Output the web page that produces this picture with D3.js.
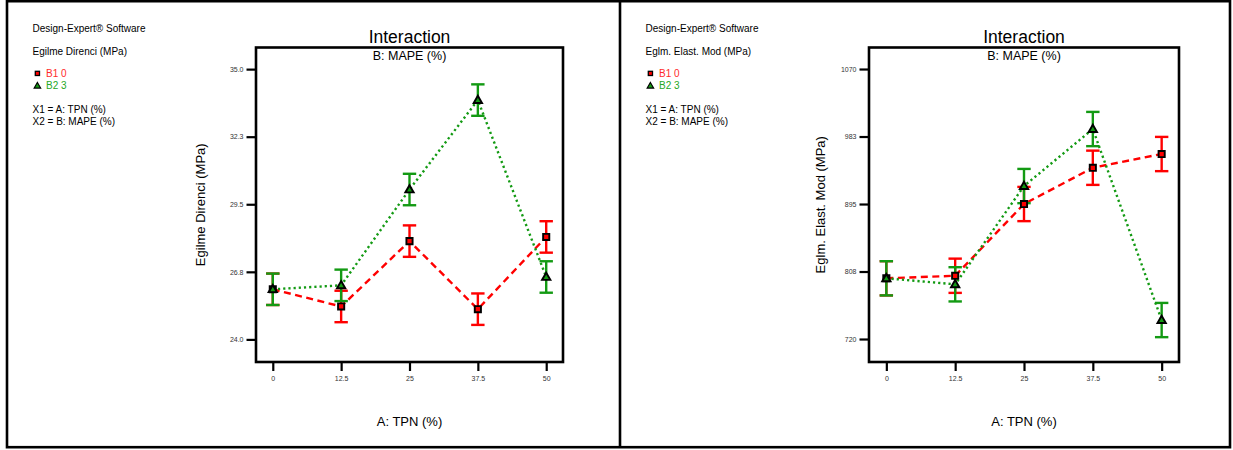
<!DOCTYPE html>
<html>
<head>
<meta charset="utf-8">
<script src="https://cdn.jsdelivr.net/npm/d3@7"></script>
<style>
  body { margin: 0; background: #fff; }
  svg { display: block; font-family: "Liberation Sans", Arial, sans-serif; }
</style>
</head>
<body>
<svg id="chart" width="1233" height="450"></svg>
<script>
// factor A levels (TPN %)
const tpnLevels = [0, 12.5, 25, 37.5, 50];
const tpnTicks = ["0", "12.5", "25", "37.5", "50"];

// Egilme Direnci (MPa)
const egilmeB1 = [26.04, 25.34, 28.0, 25.23, 28.17];
const egilmeB2 = [26.04, 26.2, 30.1, 33.74, 26.54];
const egilmeLsd = 0.64;
const egilmeTicks = [24, 26.75, 29.5, 32.25, 35];

// Eglm. Elast. Mod (MPa)
const elastB1 = [798.7, 802, 895, 942, 959.8];
const elastB2 = [798.7, 790.9, 918.3, 992.2, 744.6];
const elastLsd = 22.2;
const elastTicks = [720, 807.5, 895, 982.5, 1070];

const seriesNames = ["B1 0", "B2 3"];

const RED = "#ff0000";
const GREEN = "#139a13";

const svg = d3.select("#chart");
svg.append("rect").attr("width", 1233).attr("height", 450).attr("fill", "#fff");

// outer frame + divider
svg.append("rect")
  .attr("x", 7).attr("y", 1.2).attr("width", 1223).attr("height", 446)
  .attr("fill", "none").attr("stroke", "#000").attr("stroke-width", 2.6);
svg.append("line")
  .attr("x1", 620).attr("x2", 620).attr("y1", 0).attr("y2", 448)
  .attr("stroke", "#000").attr("stroke-width", 2.6);

const drawPanel = (ox, opts) => {
  const g = svg.append("g").attr("transform", `translate(${ox},0)`);
  const left = 249, top = 47.5, bottom = 362, w = opts.plotW;

  const x = d3.scaleLinear().domain(opts.xDomain).range([left, left + w]);
  const y = d3.scaleLinear().domain(opts.yDomain).range([bottom, top]);

  // side legend text
  const info = g.append("g").attr("font-size", "10px").attr("fill", "#000");
  info.append("text").attr("x", 25.5).attr("y", 31.5).text("Design-Expert\u00AE Software");
  info.append("text").attr("x", 25.5).attr("y", 55).text(opts.response);
  info.append("text").attr("x", 39).attr("y", 77.3).attr("fill", "#ff2a2a").text(seriesNames[0]);
  info.append("text").attr("x", 39).attr("y", 89.3).attr("fill", "#25a825").text(seriesNames[1]);
  info.append("text").attr("x", 25.5).attr("y", 113.3).text("X1 = A: TPN (%)");
  info.append("text").attr("x", 25.5).attr("y", 125).text("X2 = B: MAPE (%)");
  info.append("rect").attr("x", 28.3).attr("y", 71.3).attr("width", 4.2).attr("height", 4.2)
    .attr("fill", RED).attr("stroke", "#000").attr("stroke-width", 1.3);
  info.append("path").attr("d", d3.symbol(d3.symbolTriangle, 18)())
    .attr("transform", "translate(30.4,86.2)")
    .attr("fill", GREEN).attr("stroke", "#000").attr("stroke-width", 1.2);

  // titles
  const cx = left + w / 2;
  g.append("text").attr("x", cx).attr("y", 43.3).attr("text-anchor", "middle")
    .attr("font-size", "17.5px").text("Interaction");
  g.append("text").attr("x", cx).attr("y", 59.5).attr("text-anchor", "middle")
    .attr("font-size", "12.5px").text("B: MAPE (%)");

  // axis labels
  g.append("text").attr("x", cx).attr("y", 426).attr("text-anchor", "middle")
    .attr("font-size", "13px").text("A: TPN (%)");
  g.append("text").attr("transform", `translate(${opts.yLabelX},${(top + bottom) / 2}) rotate(-90)`)
    .attr("text-anchor", "middle").attr("font-size", "13px").text(opts.yLabel);

  // plot frame
  g.append("rect").attr("x", left).attr("y", top).attr("width", w).attr("height", bottom - top)
    .attr("fill", "none").attr("stroke", "#000").attr("stroke-width", 2.6);

  // axes
  const yAxis = d3.axisLeft(y).tickValues(opts.yTicks).tickFormat(d3.format(opts.yFmt))
    .tickSize(9.5).tickPadding(3);
  const ya = g.append("g").attr("transform", `translate(${left},0)`).call(yAxis);
  const xAxis = d3.axisBottom(x).tickValues(tpnLevels).tickFormat((d, i) => tpnTicks[i])
    .tickSize(9).tickPadding(5);
  const xa = g.append("g").attr("transform", `translate(0,${bottom})`).call(xAxis);
  [ya, xa].forEach(a => {
    a.select(".domain").remove();
    a.selectAll(".tick line").attr("stroke", "#000").attr("stroke-width", 2.2);
    a.selectAll(".tick text").attr("fill", "#333").attr("font-size", "7px")
      .attr("font-family", "\"Liberation Sans\", Arial, sans-serif");
  });

  const series = [
    { vals: opts.b1, color: RED, dash: "7,4.5", shape: "square" },
    { vals: opts.b2, color: GREEN, dash: "2.2,3", shape: "triangle" }
  ];

  const line = d3.line().x((d, i) => x(tpnLevels[i])).y(d => y(d));

  series.forEach(s => {
    g.append("path").datum(s.vals).attr("d", line)
      .attr("fill", "none").attr("stroke", s.color).attr("stroke-width", 2.4)
      .attr("stroke-dasharray", s.dash);
  });

  series.forEach(s => {
    const eb = g.append("g").attr("stroke", s.color).attr("stroke-width", 2.4).attr("fill", "none");
    s.vals.forEach((v, i) => {
      const px = x(tpnLevels[i]);
      const y0 = y(v - opts.lsd), y1 = y(v + opts.lsd);
      eb.append("line").attr("x1", px).attr("x2", px).attr("y1", y0).attr("y2", y1);
      eb.append("line").attr("x1", px - 6.7).attr("x2", px + 6.7).attr("y1", y0).attr("y2", y0);
      eb.append("line").attr("x1", px - 6.7).attr("x2", px + 6.7).attr("y1", y1).attr("y2", y1);
    });
  });

  series.forEach(s => {
    g.selectAll(null).data(s.vals).enter().append("path")
      .attr("d", s.shape === "square" ? d3.symbol(d3.symbolSquare, 38)() : d3.symbol(d3.symbolTriangle, 30)())
      .attr("transform", (d, i) => `translate(${x(tpnLevels[i])},${y(d) + (s.shape === "triangle" ? 0.5 : 0)})`)
      .attr("fill", s.color).attr("stroke", "#000").attr("stroke-width", 1.9);
  });
};

drawPanel(7, {
  response: "Egilme Direnci (MPa)",
  yLabel: "Egilme Direnci (MPa)",
  yLabelX: 198,
  plotW: 307,
  xDomain: [-3.07, 53.07],
  yDomain: [23.08, 35.88],
  yTicks: egilmeTicks,
  yFmt: ".1f",
  b1: egilmeB1,
  b2: egilmeB2,
  lsd: egilmeLsd
});

drawPanel(620, {
  response: "Eglm. Elast. Mod (MPa)",
  yLabel: "Eglm. Elast. Mod (MPa)",
  yLabelX: 205,
  plotW: 310,
  xDomain: [-3.15, 53.15],
  yDomain: [690.2, 1097.9],
  yTicks: elastTicks,
  yFmt: ".0f",
  b1: elastB1,
  b2: elastB2,
  lsd: elastLsd
});
</script>
</body>
</html>
